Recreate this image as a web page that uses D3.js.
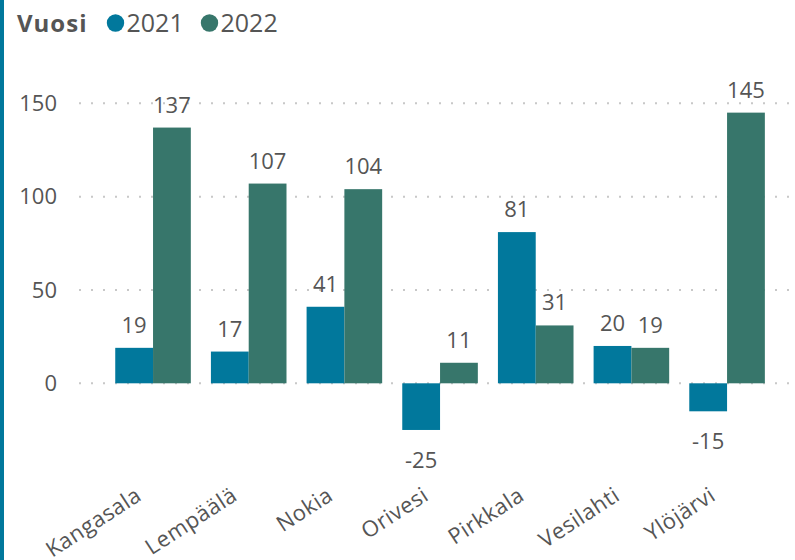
<!DOCTYPE html>
<html lang="fi">
<head>
<meta charset="utf-8">
<style>
    body { margin: 0; background: #fff; }
    text { font-family: "Open Sans", sans-serif; fill: #555; }
    .grid line { stroke: #c8c8c8; stroke-width: 2; stroke-dasharray: 2,10; }
</style>
</head>
<body>
<svg width="795" height="560"></svg>
<script src="https://cdn.jsdelivr.net/npm/d3@7"></script>
<script>
    var kunnat = ["Kangasala", "Lempäälä", "Nokia", "Orivesi", "Pirkkala", "Vesilahti", "Ylöjärvi"];
    var vuodet = ["2021", "2022"];
    var arvot2021 = [19, 17, 41, -25, 81, 20, -15];
    var arvot2022 = [137, 107, 104, 11, 31, 19, 145];
    var yTicks = [0, 50, 100, 150];
    var colors = {"2021": "#01789c", "2022": "#37766b"};

    var svg = d3.select("svg");

    // left accent stripe
    svg.append("rect").attr("x", 0).attr("y", 0).attr("width", 4).attr("height", 560).attr("fill", "#01789c");

    var x = d3.scaleBand().domain(kunnat).range([105.2, 774.9]).paddingInner(0.21).paddingOuter(0.105);
    var x1 = d3.scaleBand().domain(vuodet).range([0, x.bandwidth()]);
    var y = d3.scaleLinear().domain([0, 150]).range([383.3, 103.3]);

    // grid + y labels
    var grid = svg.append("g").attr("class", "grid");
    grid.selectAll("line").data(yTicks).enter().append("line")
        .attr("x1", 79).attr("x2", 792)
        .attr("y1", function (d) { return y(d); })
        .attr("y2", function (d) { return y(d); });
    svg.selectAll(".ylab").data(yTicks).enter().append("text")
        .attr("class", "ylab")
        .attr("x", 57).attr("y", function (d) { return y(d); })
        .attr("dy", "0.35em")
        .attr("text-anchor", "end")
        .style("font-size", "22px")
        .text(function (d) { return d; });

    var rows = kunnat.map(function (k, i) {
        return {kunta: k, vals: [{v: "2021", val: arvot2021[i]}, {v: "2022", val: arvot2022[i]}]};
    });

    var groups = svg.selectAll(".grp").data(rows).enter().append("g")
        .attr("class", "grp")
        .attr("transform", function (d) { return "translate(" + x(d.kunta) + ",0)"; });

    groups.selectAll("rect").data(function (d) { return d.vals; }).enter().append("rect")
        .attr("x", function (d) { return x1(d.v); })
        .attr("width", x1.bandwidth())
        .attr("y", function (d) { return y(Math.max(0, d.val)); })
        .attr("height", function (d) { return Math.abs(y(d.val) - y(0)); })
        .attr("fill", function (d) { return colors[d.v]; });

    groups.selectAll(".val").data(function (d) { return d.vals; }).enter().append("text")
        .attr("class", "val")
        .attr("x", function (d) { return x1(d.v) + x1.bandwidth() / 2; })
        .attr("y", function (d) { return d.val >= 0 ? y(d.val) - 15 : y(d.val) + 38; })
        .attr("text-anchor", "middle")
        .style("font-size", "22px")
        .text(function (d) { return d.val; });

    // x labels
    svg.selectAll(".xlab").data(kunnat).enter().append("text")
        .attr("class", "xlab")
        .attr("text-anchor", "end")
        .attr("transform", function (d) {
            return "translate(" + (x(d) + x.bandwidth() / 2 - 10) + ",499) rotate(-33)";
        })
        .style("font-size", "22px")
        .style("letter-spacing", "0.5px")
        .text(function (d) { return d; });

    // legend
    var leg = svg.append("g");
    leg.append("text").attr("x", 17).attr("y", 32).style("font-size", "24px").style("font-weight", "bold")
        .style("letter-spacing", "1px").text("Vuosi");
    var legX = [115.5, 209.5];
    vuodet.forEach(function (v, i) {
        leg.append("circle").attr("cx", legX[i]).attr("cy", 23).attr("r", 8.7).attr("fill", colors[v]);
        leg.append("text").attr("x", legX[i] + 11).attr("y", 32).style("font-size", "25px").text(v);
    });
</script>
</body>
</html>
